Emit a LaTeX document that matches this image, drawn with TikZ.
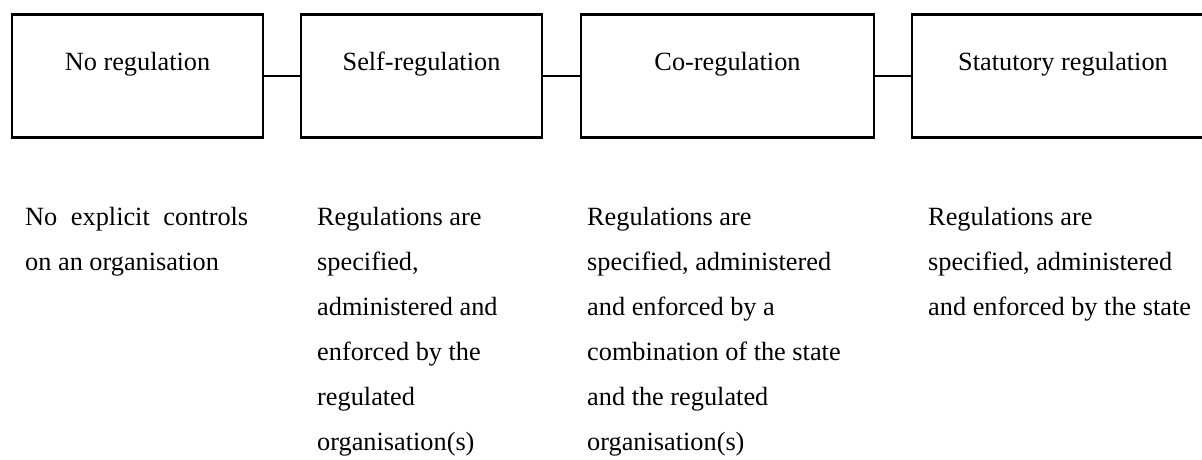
\documentclass[tikz,border=0pt]{standalone}
\usepackage{fontspec}
\setmainfont{Liberation Serif}
\begin{document}
\begin{tikzpicture}[x=1pt, y=-1pt,
  stage/.style={draw=black, line width=2.6pt, rectangle, inner sep=0pt,
    minimum height=123pt},
  stagename/.style={anchor=base, inner sep=0pt, font=\fontsize{26.3}{30}\selectfont},
  % a multi-line note sits on the baseline of its last line
  note/.style={anchor=base west, inner sep=0pt, align=left,
    font=\fontsize{26.3}{45}\selectfont},
  link/.style={draw=black, line width=2pt}]
  \useasboundingbox (0,0) rectangle (1202,459);
  \clip (0,0) rectangle (1202,459);

  % the four stages, left to right
  \node[stage, minimum width=251pt] (s1) at (137.5,76) {};
  \node[stage, minimum width=241pt] (s2) at (421.5,76) {};
  \node[stage, minimum width=293pt] (s3) at (727.5,76) {};
  \node[stage, minimum width=302pt] (s4) at (1063,76) {};

  \node[stagename] (n1) at ([yshift=6pt]s1.center) {No regulation};
  \node[stagename] (n2) at ([yshift=6pt]s2.center) {Self-regulation};
  \node[stagename] (n3) at ([yshift=6pt]s3.center) {Co-regulation};
  \node[stagename] (n4) at ([yshift=6pt]s4.center) {Statutory regulation};

  % links between neighbouring stages
  \draw[link] (s1.east) -- (s2.west);
  \draw[link] (s2.east) -- (s3.west);
  \draw[link] (s3.east) -- (s4.west);

  % descriptions under each stage; first baseline at 225, lines 45 apart
  \node[note] (d1) at (25,270) {\makebox[223pt][s]{No explicit controls}\\on an organisation};
  \node[note] (d2) at (317,450) {Regulations are\\specified,\\administered and\\enforced by the\\regulated\\organisation(s)};
  \node[note] (d3) at (587,450) {Regulations are\\specified, administered\\and enforced by a\\combination of the state\\and the regulated\\organisation(s)};
  \node[note] (d4) at (928,315) {Regulations are\\specified, administered\\and enforced by the state};
\end{tikzpicture}
\end{document}
